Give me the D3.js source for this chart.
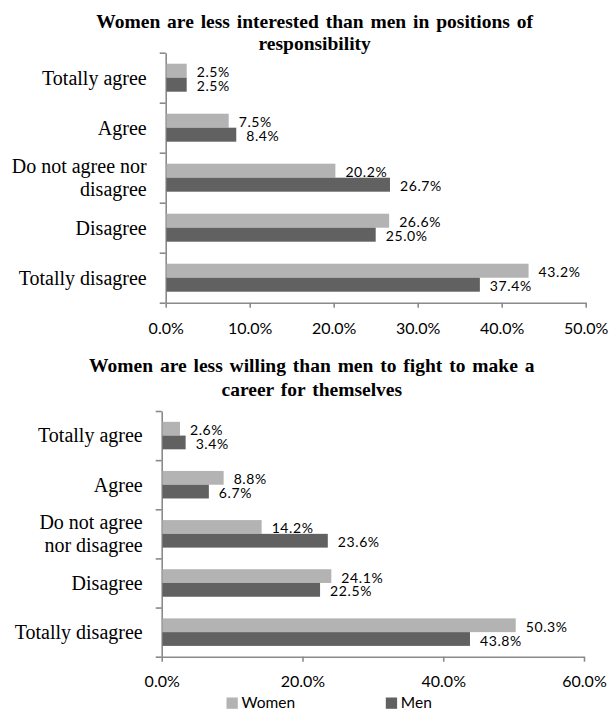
<!DOCTYPE html>
<html><head><meta charset="utf-8">
<script src="https://cdn.jsdelivr.net/npm/d3@7/dist/d3.min.js"></script>
<style>body{margin:0;background:#fff}svg{display:block}</style>
</head><body><svg id="c" width="609" height="710"></svg>
<script>
const categories = ["Totally agree","Agree","Do not agree nor disagree","Disagree","Totally disagree"];
const series = ["Women","Men"];
const women1 = [2.5,7.5,20.2,26.6,43.2];
const men1 = [2.5,8.4,26.7,25.0,37.4];
const women2 = [2.6,8.8,14.2,24.1,50.3];
const men2 = [3.4,6.7,23.6,22.5,43.8];
const ticks1 = [0,10,20,30,40,50];
const ticks2 = [0,20,40,60];
const title1 = ["Women are less interested than men in positions of","responsibility"];
const title2 = ["Women are less willing than men to fight to make a","career for themselves"];
const labels1 = [["Totally agree"],["Agree"],["Do not agree nor","disagree"],["Disagree"],["Totally disagree"]];
const labels2 = [["Totally agree"],["Agree"],["Do not agree","nor disagree"],["Disagree"],["Totally disagree"]];

const colors = {Women:"#b3b3b3", Men:"#616161"};
const axisColor = "#8a8a8a";
const svg = d3.select("#c");

function drawChart(cfg){
  const g = svg.append("g");
  cfg.title.forEach((t,i)=>{
    g.append("text").attr("x",cfg.titleX).attr("y",cfg.titleY[i])
      .attr("text-anchor","middle")
      .style("font-family","'Liberation Serif','Times New Roman',serif")
      .style("font-weight","bold").style("font-size","19.5px").style("word-spacing","2px").text(t);
  });
  const x = d3.scaleLinear().domain([0,cfg.max]).range([cfg.x0,cfg.x1]);
  const y = d3.scaleBand().domain(categories).range([cfg.y0,cfg.y1]).paddingInner(0.44).paddingOuter(0.22);
  const ys = d3.scaleBand().domain(series).range([0,y.bandwidth()]);
  const yb = d3.scaleLinear().domain([0,categories.length]).range([cfg.y0,cfg.y1]);

  const xa = g.append("g").attr("transform",`translate(0,${cfg.y1})`)
    .call(d3.axisBottom(x).tickValues(cfg.ticks).tickSize(5).tickSizeOuter(0).tickFormat(d=>d.toFixed(1)+"%"));
  const ya = g.append("g").attr("transform",`translate(${cfg.x0},0)`)
    .call(d3.axisLeft(yb).tickValues(d3.range(categories.length+1)).tickSize(6).tickSizeOuter(0).tickFormat(""));
  [xa,ya].forEach(a=>{
    a.selectAll("path,line").attr("stroke",axisColor).attr("stroke-width",1.6);
  });
  xa.selectAll("text").attr("y",cfg.tickDy).attr("dy","0").attr("fill","#000")
    .style("font-family","Lato,'Open Sans',sans-serif").style("font-size","16px");

  cfg.labels.forEach((lines,i)=>{
    const cy = y(categories[i]) + y.bandwidth()/2;
    const n = lines.length, lh = 22.5;
    lines.forEach((l,j)=>{
      g.append("text").attr("x",cfg.x0-19).attr("y",cy + 6.8 + (j-(n-1)/2)*lh)
        .attr("text-anchor","end")
        .style("font-family","'Liberation Serif','Times New Roman',serif")
        .style("font-size","20px").text(l);
    });
  });

  const data = {Women:cfg.women, Men:cfg.men};
  series.forEach(s=>{
    const rows = categories.map((c,i)=>({c, v:data[s][i]}));
    g.append("g").selectAll("rect").data(rows).join("rect")
      .attr("x",x(0)+0.8).attr("y",d=>y(d.c)+ys(s))
      .attr("width",d=>x(d.v)-x(0)-0.8).attr("height",ys.bandwidth())
      .attr("fill",colors[s]);
    g.append("g").selectAll("text").data(rows).join("text")
      .attr("x",d=>x(d.v)+10).attr("y",d=>y(d.c)+ys(s)+ys.bandwidth()/2+6.5)
      .style("font-family","Lato,'Open Sans',sans-serif").style("font-size","14px")
      .style("letter-spacing","0.6px")
      .text(d=>d.v.toFixed(1)+"%");
  });
}

drawChart({title:title1, titleX:314.7, titleY:[28,49.5], x0:165.7, x1:585.7, y0:52.7, y1:302.7,
  max:50, ticks:ticks1, tickDy:31, labels:labels1, women:women1, men:men1});
drawChart({title:title2, titleX:311.8, titleY:[372.3,396], x0:161.7, x1:584, y0:411, y1:656.7,
  max:60, ticks:ticks2, tickDy:30, labels:labels2, women:women2, men:men2});

const lg = svg.append("g");
const legendX = [226.5, 385.8];
series.forEach((s,i)=>{
  lg.append("rect").attr("x",legendX[i]).attr("y",697.5).attr("width",11.3).attr("height",11.3).attr("fill",colors[s]);
  lg.append("text").attr("x",legendX[i]+15).attr("y",707.5)
    .style("font-family","Lato,'Open Sans',sans-serif").style("font-size","15.5px").text(s);
});
</script></body></html>
